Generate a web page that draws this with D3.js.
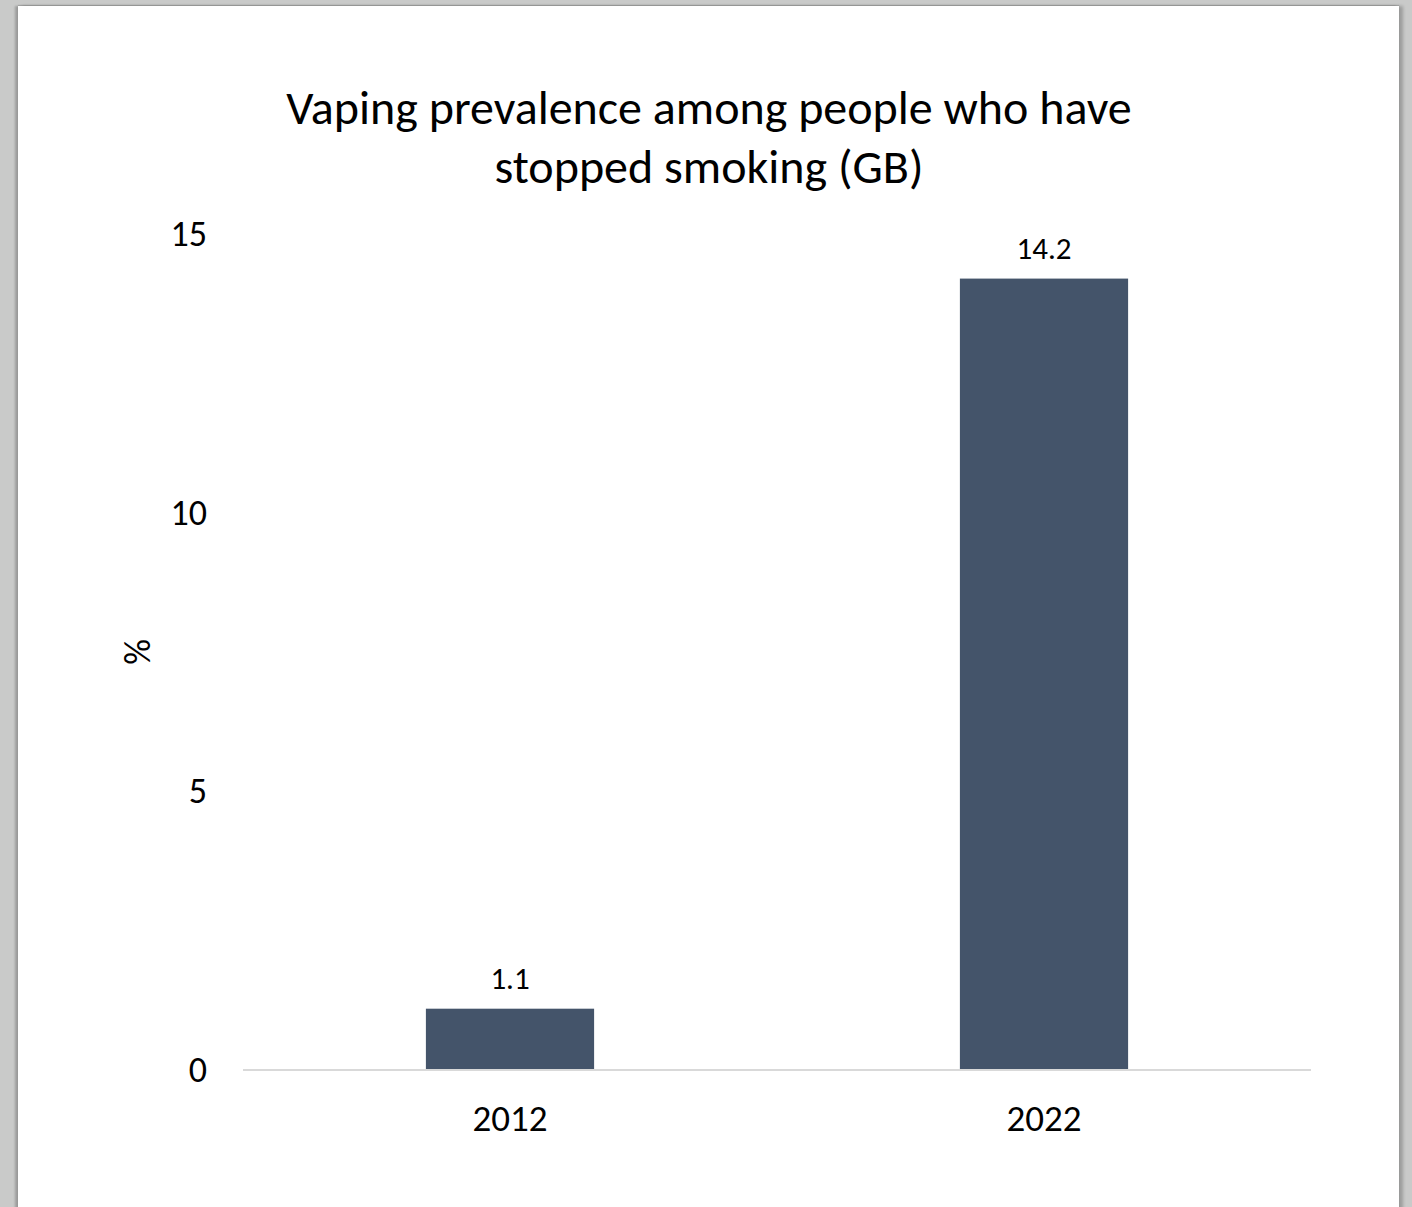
<!DOCTYPE html>
<html>
<head>
<meta charset="utf-8">
<script src="https://cdn.jsdelivr.net/npm/d3@7"></script>
<style>
  html, body { margin: 0; padding: 0; }
  body { width: 1412px; height: 1207px; background: #c9cac9; overflow: hidden; position: relative; }
  #card {
    position: absolute; left: 18px; top: 6px; width: 1381px; height: 1220px;
    background: #ffffff;
    box-shadow: -3px 0 2px rgba(0,0,0,0.22), 4px 0 3px rgba(0,0,0,0.22), 0 -1px 1px rgba(0,0,0,0.12);
  }
  svg { position: absolute; left: 0; top: 0; }
  text { font-family: Carlito, Calibri, Lato, "Open Sans", sans-serif; fill: #000; }
</style>
</head>
<body>
<div id="card"></div>
<script>
// Vaping prevalence among ex-smokers, Great Britain
const categories = ["2012", "2022"];
const values = [1.1, 14.2];
const yTicks = [0, 5, 10, 15];
const titleLines = ["Vaping prevalence among people who have", "stopped smoking (GB)"];
const yLabel = "%";

const W = 1412, H = 1207;
const plot = { left: 243, right: 1311, top: 234, bottom: 1070 };
const FONT = "Carlito, Calibri, Lato, 'Open Sans', sans-serif";

const svg = d3.select("body").append("svg").attr("width", W).attr("height", H);

const x = d3.scaleBand().domain(categories).range([plot.left, plot.right]).padding(0);
const y = d3.scaleLinear().domain([0, 15]).range([plot.bottom, plot.top]);
const barW = x.bandwidth() * 0.315;

// title
svg.append("g").selectAll("text").data(titleLines).join("text")
  .attr("x", 709).attr("y", (d, i) => 124 + i * 59)
  .attr("text-anchor", "middle").style("font-size", "48px")
  .text(d => d);

// y axis labels (no line, no ticks)
const yAxis = svg.append("g").attr("transform", `translate(${plot.left},0)`)
  .call(d3.axisLeft(y).tickValues(yTicks).tickSize(0).tickPadding(36));
yAxis.select(".domain").remove();
yAxis.selectAll("text").style("font-size", "36px").attr("fill", "#000")
  .style("font-family", FONT);

// y axis title
svg.append("text").attr("transform", "translate(150,652) rotate(-90)")
  .attr("text-anchor", "middle").style("font-size", "36px").text(yLabel);

// bars
svg.append("g").selectAll("rect").data(values).join("rect")
  .attr("x", (d, i) => x(categories[i]) + x.bandwidth() / 2 - barW / 2)
  .attr("width", barW)
  .attr("y", d => y(d))
  .attr("height", d => y(0) - y(d))
  .attr("fill", "#44546a");

// baseline
svg.append("line").attr("x1", plot.left).attr("x2", plot.right)
  .attr("y1", y(0)).attr("y2", y(0)).attr("stroke", "#d9d9d9").attr("stroke-width", 2);

// value labels
svg.append("g").selectAll("text").data(values).join("text")
  .attr("x", (d, i) => x(categories[i]) + x.bandwidth() / 2)
  .attr("y", d => y(d) - 20)
  .attr("text-anchor", "middle").style("font-size", "31px")
  .text(d => d.toFixed(1));

// x axis labels
const xAxis = svg.append("g").attr("transform", `translate(0,${plot.bottom})`)
  .call(d3.axisBottom(x).tickSize(0).tickPadding(0));
xAxis.select(".domain").remove();
xAxis.selectAll("text").attr("dy", null).attr("y", 61).style("font-size", "37px").attr("fill", "#000")
  .style("font-family", FONT);
</script>
</body>
</html>
